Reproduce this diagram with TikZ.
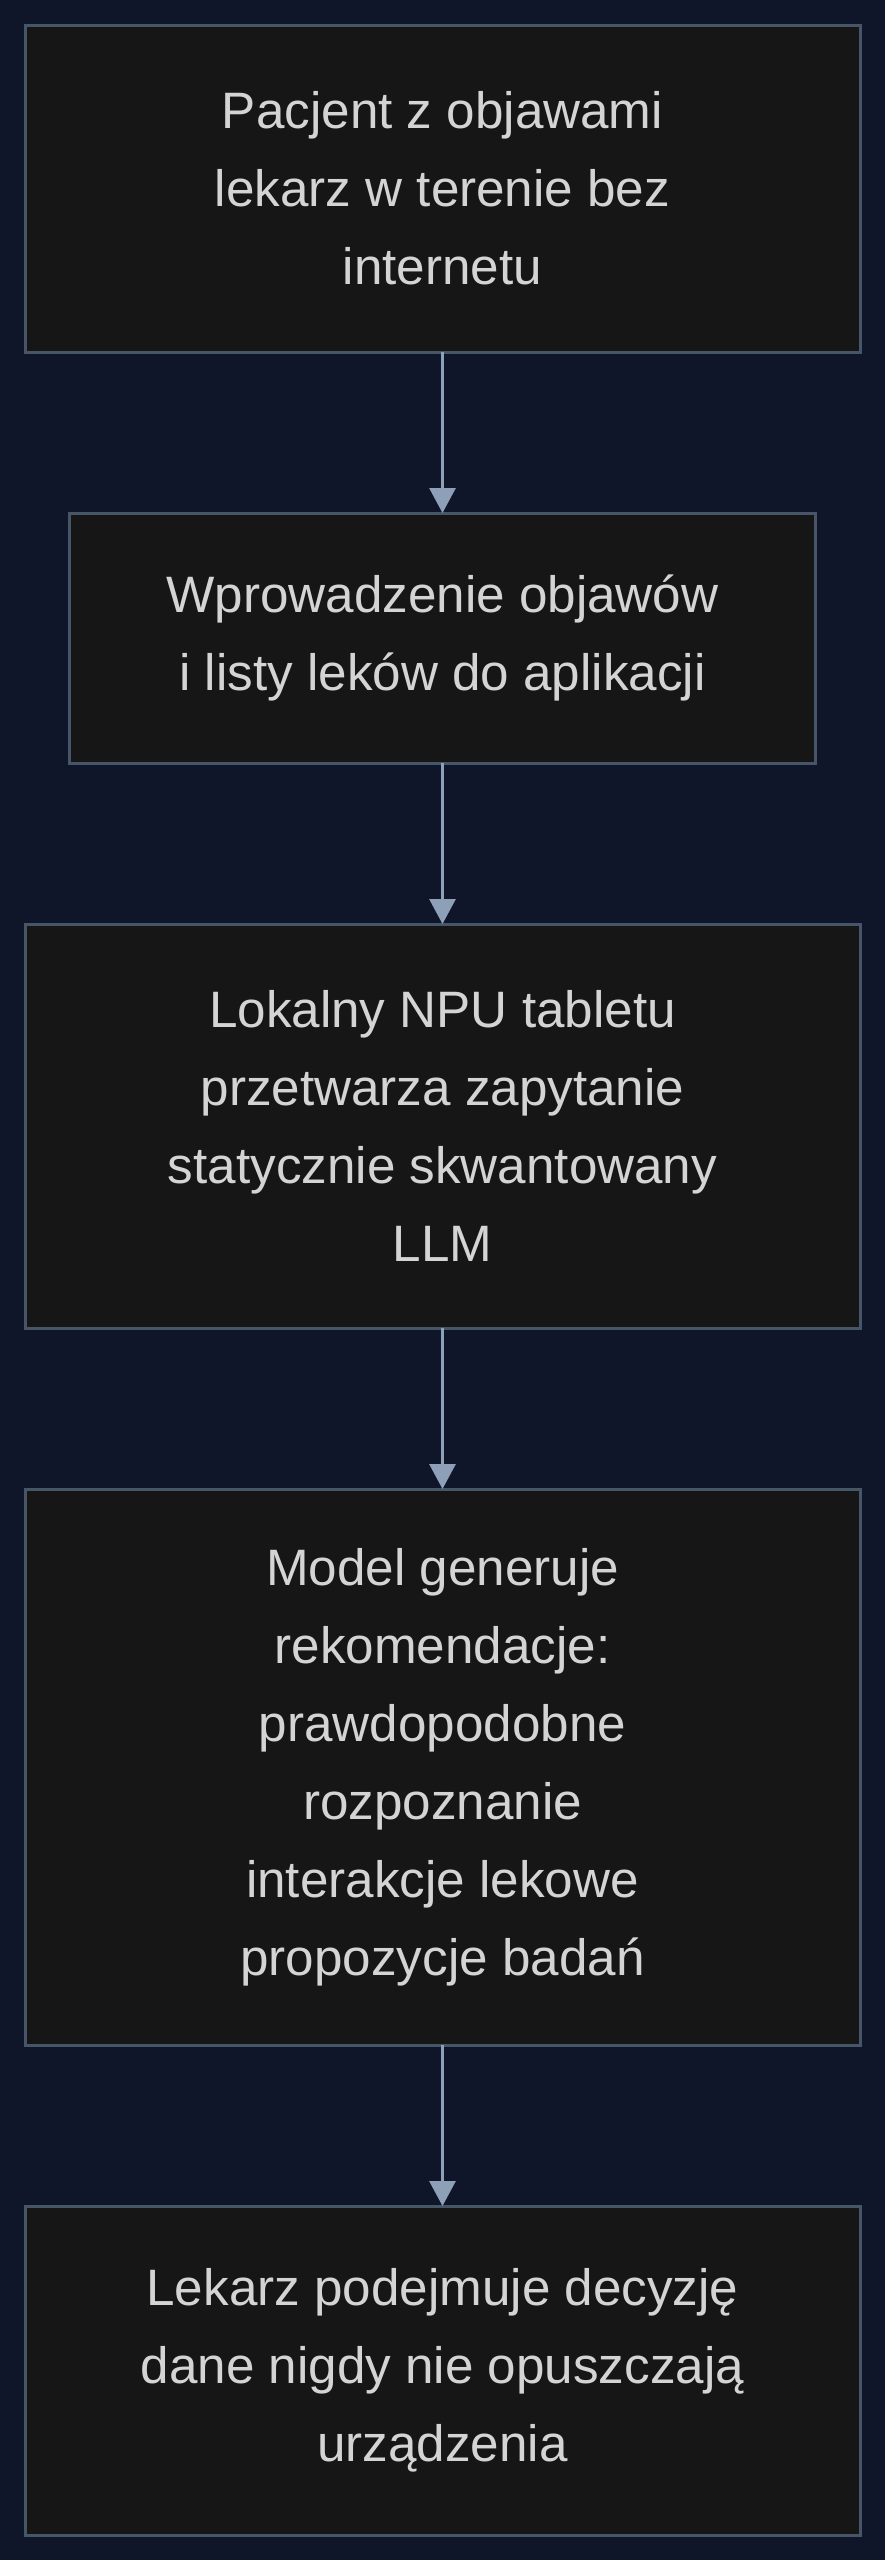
\documentclass[tikz,border=0pt]{standalone}
\usepackage{fontspec}
\setmainfont{Liberation Sans}
\usetikzlibrary{positioning,arrows.meta}
\definecolor{bgnavy}{HTML}{0F1629}
\definecolor{boxfill}{HTML}{161616}
\definecolor{boxline}{HTML}{475569}
\definecolor{arrowcol}{HTML}{8E9FB8}
\definecolor{textcol}{HTML}{D4D4D4}
\tikzset{
    stepbox/.style={draw=boxline,fill=boxfill,line width=3pt,minimum width=835pt,inner sep=0pt,outer sep=0pt,
        align=center,text=textcol,font=\fontsize{51.2}{78}\selectfont},
    flow/.style={draw=arrowcol,line width=3pt,-{Triangle[width=26pt,length=25pt]}}
}
\begin{document}
\begin{tikzpicture}[node distance=161pt]
        \fill[bgnavy] (0,0) rectangle (885pt,-2560pt);
        \node[stepbox,minimum height=327pt] (pacjent) at (442.5pt,-188.5pt) {Pacjent z objawami\\lekarz w terenie bez\\internetu};
        \node[stepbox,minimum height=250pt,minimum width=746pt,below=of pacjent] (wprowadzenie) {Wprowadzenie objawów\\i listy leków do aplikacji};
        \node[stepbox,minimum height=404pt,below=of wprowadzenie] (npu) {Lokalny NPU tabletu\\przetwarza zapytanie\\statycznie skwantowany\\LLM};
        \node[stepbox,minimum height=556pt,below=of npu] (model) {Model generuje\\rekomendacje:\\prawdopodobne\\rozpoznanie\\interakcje lekowe\\propozycje badań};
        \node[stepbox,minimum height=329pt,below=of model] (decyzja) {Lekarz podejmuje decyzję\\dane nigdy nie opuszczają\\urządzenia};
        \draw[flow] (pacjent) -- (wprowadzenie);
        \draw[flow] (wprowadzenie) -- (npu);
        \draw[flow] (npu) -- (model);
        \draw[flow] (model) -- (decyzja);
    \end{tikzpicture}
\end{document}
